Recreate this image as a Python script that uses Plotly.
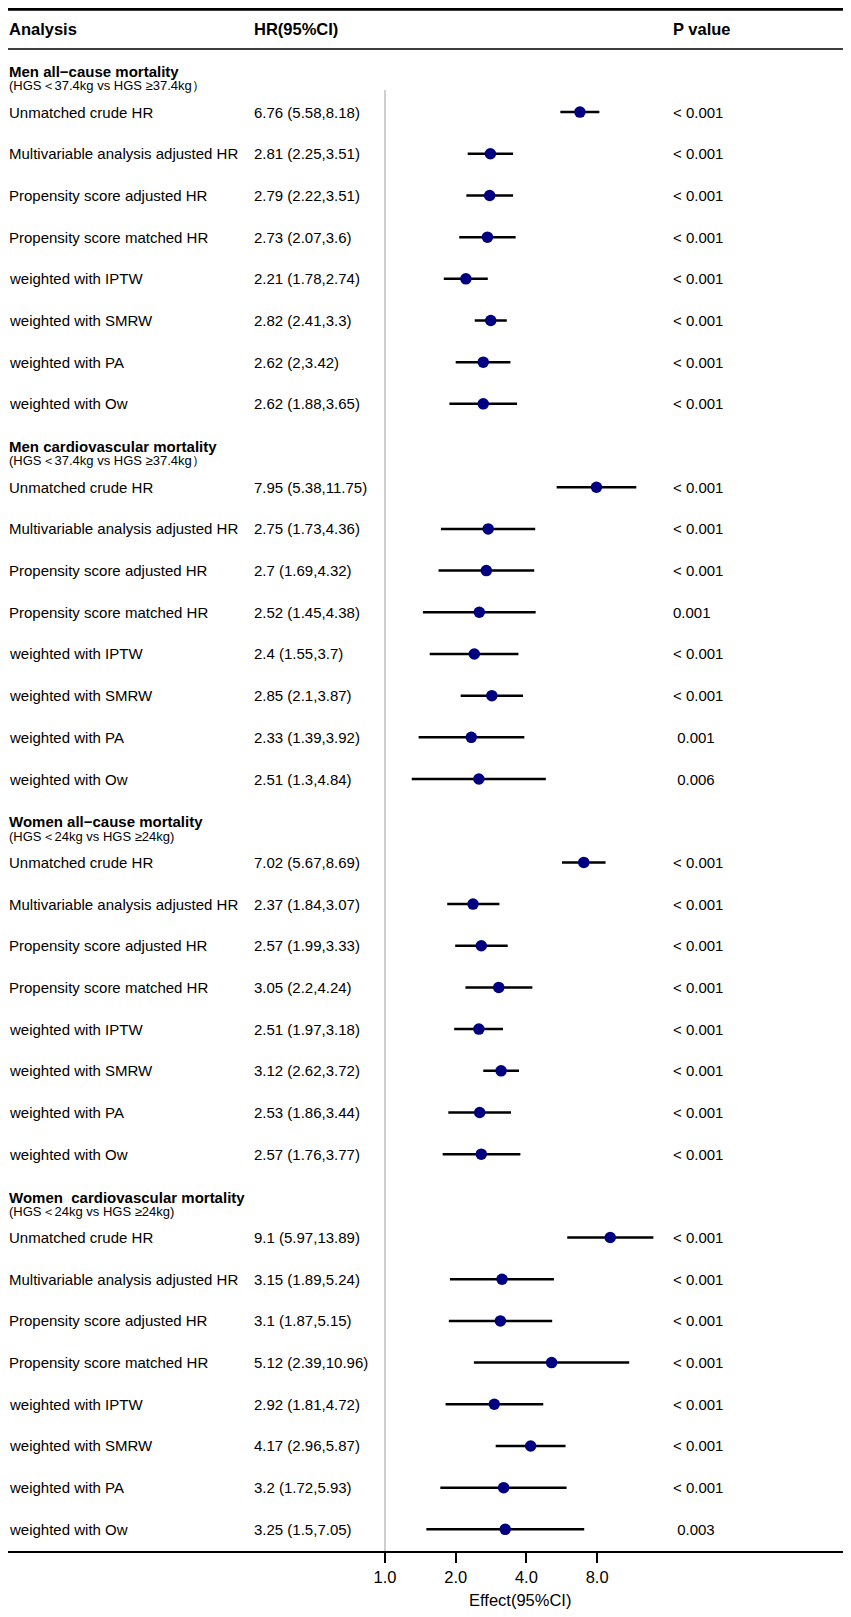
import numpy as np
import plotly.graph_objects as go

# Data
groups = ["Men all\u2212cause mortality",
          "Men cardiovascular mortality",
          "Women all\u2212cause mortality",
          "Women\u00a0 cardiovascular mortality"]
subtitles = ["(HGS\uff1c37.4kg vs HGS \u226537.4kg\uff09",
             "(HGS\uff1c37.4kg vs HGS \u226537.4kg\uff09",
             "(HGS\uff1c24kg vs HGS \u226524kg)",
             "(HGS\uff1c24kg vs HGS \u226524kg)"]
analyses = ["Unmatched crude HR",
            "Multivariable analysis adjusted HR",
            "Propensity score adjusted HR",
            "Propensity score matched HR",
            "weighted with IPTW",
            "weighted with SMRW",
            "weighted with PA",
            "weighted with Ow"]

hr_men_all = [6.76, 2.81, 2.79, 2.73, 2.21, 2.82, 2.62, 2.62]
lo_men_all = [5.58, 2.25, 2.22, 2.07, 1.78, 2.41, 2, 1.88]
hi_men_all = [8.18, 3.51, 3.51, 3.6, 2.74, 3.3, 3.42, 3.65]
p_men_all = ["< 0.001"] * 8

hr_men_cv = [7.95, 2.75, 2.7, 2.52, 2.4, 2.85, 2.33, 2.51]
lo_men_cv = [5.38, 1.73, 1.69, 1.45, 1.55, 2.1, 1.39, 1.3]
hi_men_cv = [11.75, 4.36, 4.32, 4.38, 3.7, 3.87, 3.92, 4.84]
p_men_cv = ["< 0.001", "< 0.001", "< 0.001", "0.001",
            "< 0.001", "< 0.001", "\u00a00.001", "\u00a00.006"]

hr_women_all = [7.02, 2.37, 2.57, 3.05, 2.51, 3.12, 2.53, 2.57]
lo_women_all = [5.67, 1.84, 1.99, 2.2, 1.97, 2.62, 1.86, 1.76]
hi_women_all = [8.69, 3.07, 3.33, 4.24, 3.18, 3.72, 3.44, 3.77]
p_women_all = ["< 0.001"] * 8

hr_women_cv = [9.1, 3.15, 3.1, 5.12, 2.92, 4.17, 3.2, 3.25]
lo_women_cv = [5.97, 1.89, 1.87, 2.39, 1.81, 2.96, 1.72, 1.5]
hi_women_cv = [13.89, 5.24, 5.15, 10.96, 4.72, 5.87, 5.93, 7.05]
p_women_cv = ["< 0.001"] * 7 + ["\u00a00.003"]

tick_vals = [1, 2, 4, 8]
tick_text = ["1.0", "2.0", "4.0", "8.0"]

hr = [hr_men_all, hr_men_cv, hr_women_all, hr_women_cv]
lower = [lo_men_all, lo_men_cv, lo_women_all, lo_women_cv]
upper = [hi_men_all, hi_men_cv, hi_women_all, hi_women_cv]
pvals = [p_men_all, p_men_cv, p_women_all, p_women_cv]

FONT = "Liberation Sans, Arial, sans-serif"
# the page body has an 8px margin, so the figure is a bit smaller than the window
OFF = 8
W, H = 851 - OFF, 1617 - OFF
B = 66
PLOT_H = H - B


def px_x(x):
    # page x pixel -> paper x (text box has ~1.5px padding)
    return (x - OFF - 1.5) / W


X_LABEL, X_HR, X_P = px_x(8), px_x(253), px_x(672)

# each group: one title slot + 8 rows
n_rows = len(analyses)
slots, ci_x, ci_y, pts_x = [], [], [], []
annotations = []
for g in range(len(groups)):
    base = g * (n_rows + 1)
    annotations.append(dict(x=X_LABEL, y=base + 0.03, text="<b>%s</b>" % groups[g],
                            font=dict(size=15)))
    annotations.append(dict(x=X_LABEL, y=base + 0.37, text=subtitles[g],
                            font=dict(size=13)))
    for i in range(n_rows):
        s = base + 1 + i
        slots.append(s)
        pts_x.append(hr[g][i])
        ci_x += [lower[g][i], upper[g][i], None]
        ci_y += [s, s, None]
        annotations.append(dict(x=X_LABEL, y=s, text=analyses[i], font=dict(size=15)))
        annotations.append(dict(x=X_HR, y=s,
                                text="%g (%g,%g)" % (hr[g][i], lower[g][i], upper[g][i]),
                                font=dict(size=15)))
        annotations.append(dict(x=X_P, y=s, text=pvals[g][i], font=dict(size=15)))

# header
for x, t in [(X_LABEL, "Analysis"), (X_HR, "HR(95%CI)"), (X_P, "P value")]:
    annotations.append(dict(x=x, y=-0.993, text="<b>%s</b>" % t, font=dict(size=16.5)))

for a in annotations:
    a.update(xref="paper", yref="y", xanchor="left", yanchor="middle", showarrow=False)
    a["font"].update(family=FONT, color="black")

# row slot -> page pixel: 70.4 + slot * 41.68
ROW = 41.68
y_top = (OFF - 70.4) / ROW
y_bottom = slots[-1] + 0.52
annotations.append(dict(x=(519.5 - OFF) / W, y=-(1600 - 1551) / PLOT_H,
                        xref="paper", yref="paper",
                        text="Effect(95%CI)", showarrow=False, xanchor="center",
                        yanchor="middle", font=dict(family=FONT, size=16.5, color="black")))

fig = go.Figure()
fig.add_trace(go.Scatter(x=[1, 1], y=[0.47, y_bottom], mode="lines",
                         line=dict(color="#c4c4c4", width=1.6), hoverinfo="skip"))
fig.add_trace(go.Scatter(x=ci_x, y=ci_y, mode="lines",
                         line=dict(color="black", width=2.5), hoverinfo="skip"))
fig.add_trace(go.Scatter(x=pts_x, y=slots, mode="markers",
                         marker=dict(color="#000080", size=11.5)))

px_per_dec = 70.7 / np.log10(2)
x_right = (845 - OFF) / W
r0 = -(385 - OFF) / px_per_dec
r1 = r0 + (845 - OFF) / px_per_dec

top_rule = 1 - 1.4 / PLOT_H

fig.update_layout(
    width=W, height=H, showlegend=False,
    margin=dict(l=0, r=0, t=0, b=B),
    paper_bgcolor="white", plot_bgcolor="white",
    font=dict(family=FONT, color="black"),
    annotations=annotations,
    shapes=[
        dict(type="line", xref="paper", yref="paper", x0=0, x1=x_right,
             y0=top_rule, y1=top_rule,
             line=dict(color="black", width=2.7)),
        dict(type="line", xref="paper", yref="y", x0=0, x1=x_right, y0=-0.513, y1=-0.513,
             line=dict(color="black", width=1.7)),
    ],
)
fig.update_xaxes(type="log", range=[r0, r1], domain=[0, x_right],
                 showline=True, linecolor="black", linewidth=2.3,
                 ticks="outside", ticklen=10, tickwidth=2, tickcolor="black",
                 tickvals=tick_vals, ticktext=tick_text,
                 tickfont=dict(size=16.5, family=FONT, color="black"),
                 showgrid=False, zeroline=False)
fig.update_yaxes(range=[y_bottom, y_top], visible=False, showgrid=False, zeroline=False)

fig.write_html("out.html")
